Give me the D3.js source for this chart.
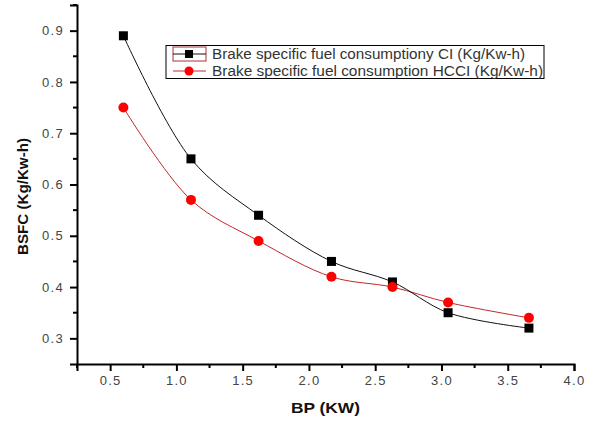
<!DOCTYPE html>
<html>
<head>
<meta charset="utf-8">
<script src="https://cdn.jsdelivr.net/npm/d3@7"></script>
<style>
  html, body { margin: 0; padding: 0; background: #fff; }
  svg { display: block; }
</style>
</head>
<body>
<script>
// Brake power (kW) at each load step
const bpValues = [0.6, 1.11, 1.62, 2.17, 2.63, 3.05, 3.66];
// BSFC readings (kg/kW-h)
const bsfcCI = [0.89, 0.65, 0.54, 0.45, 0.41, 0.35, 0.32];
const bsfcHCCI = [0.75, 0.57, 0.49, 0.42, 0.40, 0.37, 0.34];
const seriesNames = [
  "Brake specific fuel consumptiony CI (Kg/Kw-h)",
  "Brake specific fuel consumption HCCI (Kg/Kw-h)"
];
const xTickValues = [0.5, 1.0, 1.5, 2.0, 2.5, 3.0, 3.5, 4.0];
const yTickValues = [0.3, 0.4, 0.5, 0.6, 0.7, 0.8, 0.9];

const W = 590, H = 421;
const svg = d3.select("body").append("svg").attr("width", W).attr("height", H);

const x = d3.scaleLinear().domain([0.25, 4.0]).range([77, 574]);
const y = d3.scaleLinear().domain([0.25, 0.95]).range([364, 5]);

const font = "'Liberation Sans', Arial, sans-serif";
const labelColor = "#444";

// minor ticks
const xMinor = d3.range(0.25, 4.0001, 0.25).filter(v => Math.abs(v * 2 - Math.round(v * 2)) > 1e-6);
const yMinor = d3.range(0.25, 0.9501, 0.1);

const gx = svg.append("g").attr("transform", `translate(0,${y(0.25)})`);
gx.call(d3.axisBottom(x).tickValues(xTickValues).tickFormat(d3.format(".1f")).tickSize(7).tickPadding(5));
gx.select(".domain").attr("stroke", "#000").attr("stroke-width", 2);
gx.selectAll(".tick line").attr("stroke", "#000").attr("stroke-width", 2);
gx.selectAll(".tick text").attr("fill", labelColor).style("font-family", font)
  .style("font-size", "13px").style("letter-spacing", "1.3px");
gx.append("g").selectAll("line").data(xMinor).join("line")
  .attr("x1", d => x(d)).attr("x2", d => x(d)).attr("y1", 0).attr("y2", 4)
  .attr("stroke", "#000").attr("stroke-width", 2);

const gy = svg.append("g").attr("transform", `translate(${x(0.25)},0)`);
gy.call(d3.axisLeft(y).tickValues(yTickValues).tickFormat(d3.format(".1f")).tickSize(7).tickPadding(6));
gy.select(".domain").attr("stroke", "#000").attr("stroke-width", 2);
gy.selectAll(".tick line").attr("stroke", "#000").attr("stroke-width", 2);
gy.selectAll(".tick text").attr("fill", labelColor).style("font-family", font)
  .style("font-size", "13px").style("letter-spacing", "1.3px");
gy.append("g").selectAll("line").data(yMinor.slice(1)).join("line")
  .attr("y1", d => y(d)).attr("y2", d => y(d)).attr("x1", 0).attr("x2", -4)
  .attr("stroke", "#000").attr("stroke-width", 2);

// axis titles
svg.append("text").attr("x", 291).attr("y", 413)
  .attr("textLength", 69).attr("lengthAdjust", "spacingAndGlyphs")
  .attr("fill", "#111")
  .style("font-family", font).style("font-size", "15.5px").style("font-weight", "bold")
  .text("BP (KW)");
svg.append("text").attr("transform", "translate(28,255) rotate(-90)")
  .attr("textLength", 117).attr("lengthAdjust", "spacingAndGlyphs")
  .attr("fill", "#111")
  .style("font-family", font).style("font-size", "15.5px").style("font-weight", "bold")
  .text("BSFC (Kg/Kw-h)");

// curves
const line = d3.line().x(d => x(d[0])).y(d => y(d[1])).curve(d3.curveCatmullRom.alpha(0.5));
const ciData = bpValues.map((v, i) => [v, bsfcCI[i]]);
const hcciData = bpValues.map((v, i) => [v, bsfcHCCI[i]]);

svg.append("path").datum(hcciData).attr("d", line)
  .attr("fill", "none").attr("stroke", "#c0282a").attr("stroke-width", 1);
svg.append("path").datum(ciData).attr("d", line)
  .attr("fill", "none").attr("stroke", "#111").attr("stroke-width", 1);

svg.append("g").selectAll("rect").data(ciData).join("rect")
  .attr("x", d => x(d[0]) - 4.5).attr("y", d => y(d[1]) - 4.5)
  .attr("width", 9).attr("height", 9).attr("fill", "#000");
svg.append("g").selectAll("circle").data(hcciData).join("circle")
  .attr("cx", d => x(d[0])).attr("cy", d => y(d[1])).attr("r", 5)
  .attr("fill", "#f00");

// legend
const lg = svg.append("g");
lg.append("rect").attr("x", 166).attr("y", 45.5).attr("width", 378).attr("height", 33)
  .attr("fill", "#fff").attr("stroke", "#000").attr("stroke-width", 1);
lg.append("rect").attr("x", 173).attr("y", 47).attr("width", 33).attr("height", 14)
  .attr("fill", "none").attr("stroke", "#a33").attr("stroke-width", 1);
const rows = [54, 71];
lg.append("line").attr("x1", 173).attr("x2", 206).attr("y1", rows[0]).attr("y2", rows[0]).attr("stroke", "#111");
lg.append("rect").attr("x", 189 - 4).attr("y", rows[0] - 4).attr("width", 8).attr("height", 8).attr("fill", "#000");
lg.append("line").attr("x1", 173).attr("x2", 206).attr("y1", rows[1]).attr("y2", rows[1]).attr("stroke", "#c0282a");
lg.append("circle").attr("cx", 189).attr("cy", rows[1]).attr("r", 4.5).attr("fill", "#f00");
const legendWidths = [313, 331];
lg.selectAll("text.name").data(seriesNames).join("text").attr("class", "name")
  .attr("x", 212).attr("y", (d, i) => rows[i] + 5)
  .attr("textLength", (d, i) => legendWidths[i]).attr("lengthAdjust", "spacingAndGlyphs")
  .attr("fill", "#333").style("font-family", font).style("font-size", "14px")
  .text(d => d);
</script>
</body>
</html>
